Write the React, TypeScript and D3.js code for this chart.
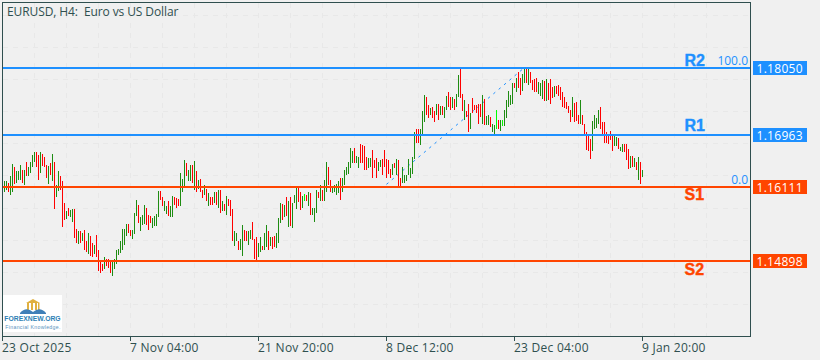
import React from "react";
import * as d3 from "d3";

const title = "EURUSD, H4:  Euro vs US Dollar";
const highs = [
1.1620,1.1621,1.1618,1.1628,1.1649,1.1643,1.1636,1.1636,1.1647,1.1639,
1.1639,1.1651,1.1643,1.1651,1.1663,1.1667,1.1667,1.1663,1.1668,1.1665,
1.1660,1.1647,1.1645,1.1650,1.1665,1.1651,1.1614,1.1637,1.1629,1.1620,
1.1585,1.1572,1.1576,1.1573,1.1575,1.1575,1.1542,1.1538,1.1538,1.1536,
1.1541,1.1522,1.1535,1.1530,1.1519,1.1516,1.1533,1.1508,1.1491,1.1485,
1.1497,1.1493,1.1493,1.1489,1.1492,1.1493,1.1508,1.1509,1.1523,1.1542,
1.1542,1.1551,1.1551,1.1541,1.1541,1.1569,1.1590,1.1582,1.1561,1.1565,
1.1582,1.1577,1.1565,1.1564,1.1560,1.1564,1.1567,1.1604,1.1604,1.1594,
1.1587,1.1580,1.1587,1.1580,1.1596,1.1594,1.1592,1.1591,1.1634,1.1624,
1.1655,1.1650,1.1639,1.1647,1.1647,1.1653,1.1637,1.1622,1.1623,1.1606,
1.1614,1.1608,1.1601,1.1595,1.1594,1.1603,1.1603,1.1606,1.1606,1.1587,
1.1583,1.1596,1.1591,1.1590,1.1575,1.1538,1.1536,1.1523,1.1526,1.1549,
1.1541,1.1538,1.1538,1.1541,1.1553,1.1526,1.1529,1.1520,1.1529,1.1514,
1.1535,1.1549,1.1539,1.1529,1.1529,1.1530,1.1536,1.1560,1.1584,1.1583,
1.1582,1.1594,1.1587,1.1594,1.1585,1.1597,1.1612,1.1609,1.1603,1.1596,
1.1600,1.1598,1.1603,1.1601,1.1577,1.1576,1.1606,1.1603,1.1614,1.1605,
1.1622,1.1652,1.1644,1.1622,1.1612,1.1614,1.1615,1.1620,1.1625,1.1626,
1.1638,1.1643,1.1652,1.1674,1.1670,1.1674,1.1662,1.1660,1.1681,1.1680,
1.1677,1.1659,1.1658,1.1658,1.1671,1.1655,1.1658,1.1652,1.1654,1.1656,
1.1671,1.1656,1.1654,1.1640,1.1649,1.1650,1.1656,1.1654,1.1625,1.1643,
1.1631,1.1631,1.1656,1.1641,1.1659,1.1700,1.1705,1.1705,1.1705,1.1735,
1.1761,1.1758,1.1744,1.1740,1.1742,1.1734,1.1747,1.1747,1.1743,1.1743,
1.1742,1.1760,1.1766,1.1758,1.1758,1.1755,1.1762,1.1793,1.1803,1.1762,
1.1753,1.1734,1.1747,1.1731,1.1756,1.1744,1.1744,1.1747,1.1747,1.1761,
1.1754,1.1727,1.1728,1.1725,1.1714,1.1712,1.1736,1.1720,1.1720,1.1720,
1.1736,1.1753,1.1767,1.1761,1.1781,1.1780,1.1788,1.1799,1.1789,1.1796,
1.1803,1.1803,1.1803,1.1798,1.1785,1.1787,1.1788,1.1782,1.1781,1.1785,
1.1784,1.1787,1.1780,1.1787,1.1774,1.1775,1.1776,1.1778,1.1774,1.1766,
1.1758,1.1750,1.1743,1.1736,1.1757,1.1748,1.1750,1.1728,1.1753,1.1729,
1.1713,1.1700,1.1695,1.1689,1.1718,1.1728,1.1723,1.1736,1.1742,1.1717,
1.1717,1.1700,1.1698,1.1702,1.1698,1.1695,1.1693,1.1690,1.1676,1.1681,
1.1681,1.1681,1.1673,1.1662,1.1661,1.1658,1.1652,1.1659,1.1651,1.1638,
];
const lows = [
1.1602,1.1606,1.1603,1.1598,1.1602,1.1616,1.1618,1.1622,1.1622,1.1617,
1.1614,1.1629,1.1629,1.1634,1.1643,1.1652,1.1643,1.1622,1.1634,1.1645,
1.1643,1.1625,1.1616,1.1631,1.1620,1.1575,1.1595,1.1604,1.1605,1.1545,
1.1557,1.1558,1.1564,1.1561,1.1553,1.1528,1.1520,1.1518,1.1520,1.1523,
1.1507,1.1504,1.1502,1.1498,1.1496,1.1501,1.1497,1.1474,1.1471,1.1473,
1.1476,1.1481,1.1478,1.1470,1.1466,1.1476,1.1485,1.1500,1.1503,1.1508,
1.1516,1.1530,1.1536,1.1530,1.1526,1.1534,1.1563,1.1552,1.1538,1.1549,
1.1550,1.1549,1.1540,1.1552,1.1544,1.1547,1.1547,1.1561,1.1589,1.1579,
1.1572,1.1567,1.1564,1.1561,1.1561,1.1582,1.1577,1.1579,1.1579,1.1603,
1.1612,1.1628,1.1621,1.1620,1.1617,1.1606,1.1603,1.1607,1.1603,1.1593,
1.1598,1.1587,1.1580,1.1582,1.1582,1.1584,1.1582,1.1577,1.1569,1.1571,
1.1571,1.1565,1.1579,1.1564,1.1523,1.1515,1.1522,1.1507,1.1507,1.1498,
1.1523,1.1522,1.1516,1.1526,1.1524,1.1493,1.1492,1.1497,1.1505,1.1507,
1.1508,1.1513,1.1508,1.1514,1.1509,1.1513,1.1511,1.1520,1.1552,1.1557,
1.1561,1.1563,1.1546,1.1547,1.1544,1.1585,1.1575,1.1586,1.1573,1.1576,
1.1587,1.1588,1.1579,1.1565,1.1565,1.1553,1.1568,1.1592,1.1588,1.1587,
1.1588,1.1603,1.1614,1.1603,1.1601,1.1602,1.1598,1.1601,1.1589,1.1602,
1.1614,1.1631,1.1632,1.1641,1.1650,1.1650,1.1650,1.1641,1.1650,1.1650,
1.1639,1.1638,1.1641,1.1644,1.1625,1.1641,1.1625,1.1636,1.1644,1.1631,
1.1643,1.1625,1.1632,1.1625,1.1631,1.1641,1.1631,1.1613,1.1613,1.1618,
1.1618,1.1620,1.1631,1.1625,1.1632,1.1657,1.1683,1.1682,1.1680,1.1695,
1.1717,1.1728,1.1723,1.1729,1.1723,1.1717,1.1728,1.1720,1.1729,1.1729,
1.1724,1.1736,1.1742,1.1736,1.1739,1.1736,1.1742,1.1758,1.1756,1.1734,
1.1720,1.1725,1.1701,1.1705,1.1731,1.1736,1.1731,1.1714,1.1725,1.1713,
1.1712,1.1712,1.1712,1.1709,1.1700,1.1698,1.1705,1.1705,1.1702,1.1710,
1.1710,1.1723,1.1742,1.1745,1.1747,1.1772,1.1766,1.1772,1.1761,1.1767,
1.1781,1.1781,1.1777,1.1780,1.1769,1.1765,1.1766,1.1762,1.1760,1.1754,
1.1751,1.1751,1.1753,1.1746,1.1756,1.1758,1.1762,1.1760,1.1753,1.1742,
1.1740,1.1738,1.1731,1.1717,1.1725,1.1717,1.1718,1.1714,1.1713,1.1712,
1.1697,1.1671,1.1669,1.1657,1.1669,1.1705,1.1707,1.1714,1.1705,1.1695,
1.1682,1.1682,1.1681,1.1687,1.1669,1.1678,1.1678,1.1673,1.1669,1.1668,
1.1668,1.1655,1.1640,1.1641,1.1644,1.1644,1.1638,1.1622,1.1615,1.1627,
];
const directions = (
"ggrggrgggr"+"grggggrrgr"+"rrgrgrggrr"+"rgrggrrgrg"+"rrgrrgrrrr"+"grrrgggggg"+"ggrrgggrgg"+"grrrggggrr"+
"ggrggrrrgg"+"grggrgrgrr"+"grgrrgrgrg"+"rgrrrggrgg"+"rrggrrrggr"+"ggrgrrgggr"+"grgrgggrrg"+"lrgrgggrgr"+
"ggrrggggrg"+"gggggrggrr"+"rrggrrrggr"+"rrrrgrgrrg"+"ggggggrrgg"+"grrgrrgrgr"+"ggrrgrggrr"+"grrgrrrrrg"+
"rggrgglrgl"+"gggggrgrrg"+"grgrrrrggg"+"rgrrrgrrrr"+"rrrrgrrrgr"+"rrrrggggrr"+"rrrrrggrgg"+"rrrgrgrgrg"
).split("");

const levelNames = ["R2", "R1", "S1", "S2"];
const levelPrices = [1.1805, 1.16963, 1.16111, 1.14898];
const levelLabels = ["1.18050", "1.16963", "1.16111", "1.14898"];
const timeTickBars = [-1, 63, 127, 191, 255, 319];
const timeTickLabels = ["23 Oct 2025", "7 Nov 04:00", "21 Nov 20:00", "8 Dec 12:00", "23 Dec 04:00", "9 Jan 20:00"];
const gridPrices = [1.18915, 1.18391, 1.17867, 1.17343, 1.16819, 1.16295, 1.15771, 1.15247, 1.14723, 1.14199];
const gridBars = [15, 31, 47, 63, 79, 95, 111, 127, 143, 159, 175, 191, 207, 223, 239, 255, 271, 287, 303, 319, 335, 351];
const fibBars = [191, 259];
const fibPrices = [1.1615, 1.1803];
const fibLabels = ["100.0", "0.0"];
const fibLabelPrices = [1.1805, 1.16111];

const BG = "#F0F0F0", INK = "#2F4F4F", BLUE = "#1E90FF", ORANGE = "#FF4500", GREEN = "#1E8C12", RED = "#FF0000", LIME = "#00FF00", GRID = "#E8E8E8";
const FONT = "'Open Sans', 'DejaVu Sans', sans-serif";

export default function App() {
  const x = d3.scaleLinear().domain([0, 319]).range([4.5, 642.5]);
  const y = d3.scaleLinear().domain([1.1805, 1.14898]).range([68, 261]);
  const left = 2.5, right = 750.5, top = 2.5, bottom = 336.5;
  const fibLine = d3.line<number>().x((b) => x(b)).y((_, i) => y(fibPrices[i]));
  const levelColor = (n: string) => (n[0] === "R" ? BLUE : ORANGE);
  const nameDy = [-6.5, -8, 9.5, 10];
  return (
    <svg width={820} height={360} style={{ position: "fixed", left: 0, top: 0, display: "block", background: BG }}>
      <g stroke={GRID} strokeDasharray="5 5" shapeRendering="crispEdges">
        {gridPrices.map((p) => <line key={p} x1={left} x2={right} y1={Math.round(y(p)) + 0.5} y2={Math.round(y(p)) + 0.5} />)}
        {gridBars.map((b) => <line key={b} x1={x(b)} x2={x(b)} y1={top} y2={bottom} />)}
      </g>
      <path d={fibLine(fibBars) || ""} fill="none" stroke={BLUE} strokeWidth={1} strokeDasharray="2.5 4.5" />
      <g shapeRendering="crispEdges">
        {highs.map((h, i) => (
          <line key={i} x1={x(i)} x2={x(i)} y1={y(h)} y2={y(lows[i])}
            stroke={directions[i] === "g" ? GREEN : directions[i] === "r" ? RED : LIME} strokeWidth={1} />
        ))}
      </g>
      {levelPrices.map((p, i) => (
        <line key={p} x1={left} x2={right} y1={y(p)} y2={y(p)} stroke={levelColor(levelNames[i])} strokeWidth={2} shapeRendering="crispEdges" />
      ))}
      {levelNames.map((n, i) => (
        <text key={n} x={684.5} y={y(levelPrices[i]) + nameDy[i]} dominantBaseline="middle" fontFamily="'Liberation Sans', Arial, sans-serif"
          fontWeight={700} fontSize={16} stroke={levelColor(n)} strokeWidth={0.4} fill={levelColor(n)}>{n}</text>
      ))}
      {fibLabels.map((t, i) => (
        <text key={t} x={748} y={y(fibLabelPrices[i]) - 3} textAnchor="end" fontFamily={FONT} fontSize={12} fill={BLUE}>{t}</text>
      ))}
      <rect x={left} y={top} width={right - left} height={bottom - top} fill="none" stroke={INK} strokeWidth={1} shapeRendering="crispEdges" />
      {timeTickBars.map((b, i) => (
        <g key={b}>
          <line x1={x(b)} x2={x(b)} y1={bottom} y2={bottom + 4} stroke={INK} shapeRendering="crispEdges" />
          <text x={x(b) - 0.5} y={352} fontFamily={FONT} fontSize={12} letterSpacing={0.25} fill={INK}>{timeTickLabels[i]}</text>
        </g>
      ))}
      {levelPrices.map((p, i) => (
        <g key={p}>
          <rect x={753} y={Math.round(y(p)) - 7} width={54} height={14} fill={levelColor(levelNames[i])} />
          <text x={756.5} y={Math.round(y(p)) + 4.5} fontFamily={FONT} fontSize={12} letterSpacing={0.3} fill="#FFFFFF">{levelLabels[i]}</text>
        </g>
      ))}
      <text x={7} y={16} fontFamily={FONT} fontSize={12} letterSpacing={-0.1} fill={INK} style={{ whiteSpace: "pre" }}>{title}</text>
      <g>
        <rect x={3} y={295} width={59} height={37} fill="#FFFFFF" />
        <path d="M26 303 L33 299 L40 303 Z" fill="#E0B040" />
        <g fill="#E0B040">
          <rect x={27} y={303} width={2} height={7} />
          <rect x={31} y={303} width={2} height={7} />
          <rect x={35} y={303} width={2} height={7} />
          <rect x={38} y={303} width={1.5} height={7} />
        </g>
        <path d="M20 313 Q26 306 33 312 Q40 306 46 313 L46 314 L20 314 Z" fill="#3F7FB8" />
        <text x={32.5} y={321} textAnchor="middle" fontFamily="'Liberation Sans', Arial, sans-serif" fontWeight={700} fontSize={6.8} fill="#2E7FB5">FOREXNEW.ORG</text>
        <text x={33} y={328.5} textAnchor="middle" fontFamily="'Liberation Sans', Arial, sans-serif" fontSize={5.2} letterSpacing={0.3} fill="#5A93C0">Financial Knowledge.</text>
      </g>
    </svg>
  );
}
